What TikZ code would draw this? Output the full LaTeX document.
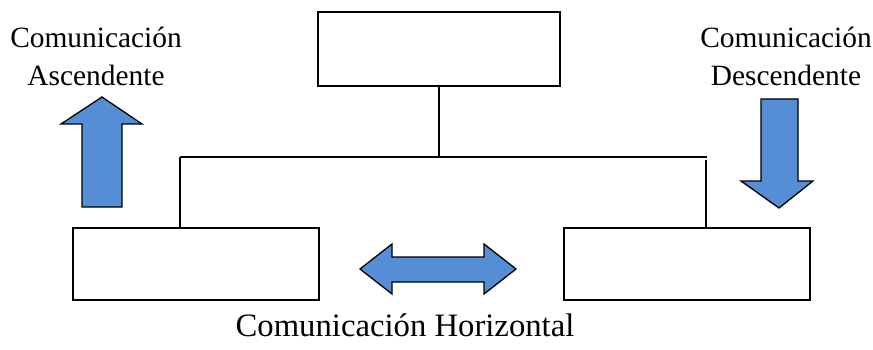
\documentclass[tikz,border=0pt]{standalone}
\usepackage{fontspec}
\setmainfont{Liberation Serif}
\usetikzlibrary{calc}
\definecolor{arrowblue}{RGB}{85,142,212}
\tikzset{
	box/.style={draw, line width=1.2pt, minimum width=#1, minimum height=72pt, inner sep=0pt},
	link/.style={line width=1.2pt},
	flecha/.style={draw=black, line width=1.3pt, fill=arrowblue, line join=miter},
	rotulo/.style={align=center, font=\fontsize{29.4}{38}\selectfont, inner sep=0pt}
}

\begin{document}
\begin{tikzpicture}[x=1pt, y=-1pt]
		%%%%% START %%%%%
		\useasboundingbox (0, 0) rectangle (873, 350);
		
		\node[box=242pt, minimum height=74pt] (jefe) at (439, 49) {};
		\node[box=246pt] (izq) at (196, 264) {};
		\node[box=246pt] (der) at (687, 264) {};
		
		\coordinate (centro) at (439, 157);
		\coordinate (jl) at (180, 157);
		\coordinate (jr) at (707, 157);
		\coordinate (jr2) at (706, 160);
		
		\draw[link] (jefe.south) -- (centro);
		\draw[link] (jl) -- (jr);
		\draw[link] (jl) -- (jl |- izq.north);
		\draw[link] (jr2) -- (jr2 |- der.north);
		
		% ascendente
		\draw[flecha] (82, 207) -- (82, 124) -- (61, 124) -- (102, 97) -- (142, 124) -- (122, 124) -- (122, 207) -- cycle;
		% descendente
		\draw[flecha] (761, 99) -- (798, 99) -- (798, 181) -- (813, 181) -- (779, 208) -- (741, 181) -- (761, 181) -- cycle;
		% horizontal
		\draw[flecha] (360, 269) -- (392, 244) -- (392, 257) -- (484, 257) -- (484, 244) -- (516, 269) -- (484, 294) -- (484, 282) -- (392, 282) -- (392, 294) -- cycle;
		
		\node[rotulo] (asc) at (96, 56) {Comunicación\\Ascendente};
		\node[rotulo] (desc) at (786, 56) {Comunicación\\Descendente};
		\node[rotulo, font=\fontsize{32.7}{38}\selectfont] (hor) at (405, 325) {Comunicación Horizontal};
		
		%%%%% END %%%%%
	\end{tikzpicture}
\end{document}
